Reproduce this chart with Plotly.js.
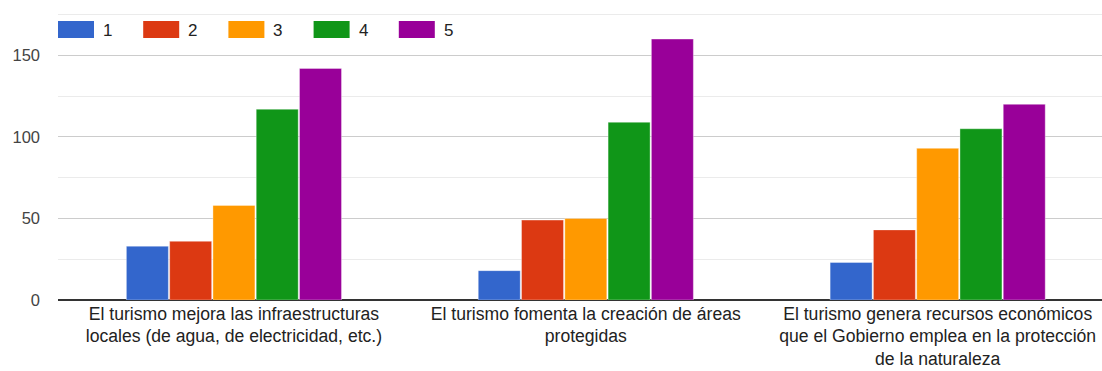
<!DOCTYPE html>
<html><head><meta charset="utf-8">
<script src="https://cdn.plot.ly/plotly-3.0.1.min.js"></script>
<style>html,body{margin:0;padding:0;background:#fff;}#chart{width:1102px;height:371px;}</style>
</head><body><div id="chart"></div>
<script>
const categories = [
  "El turismo mejora las infraestructuras<br>locales (de agua, de electricidad, etc.)",
  "El turismo fomenta la creación de áreas<br>protegidas",
  "El turismo genera recursos económicos<br>que el Gobierno emplea en la protección<br>de la naturaleza"
];
const seriesNames = ["1", "2", "3", "4", "5"];
const seriesColors = ["#3366cc", "#dc3912", "#ff9900", "#109618", "#990099"];
const values1 = [33, 18, 23];
const values2 = [36, 49, 43];
const values3 = [58, 50, 93];
const values4 = [117, 109, 105];
const values5 = [142, 160, 120];
const allValues = [values1, values2, values3, values4, values5];
const yTicks = [0, 50, 100, 150];

const FONT = '"Liberation Sans", Arial, sans-serif';

const traces = allValues.map((v, i) => ({
  type: 'bar', x: categories, y: v, name: seriesNames[i],
  marker: {color: seriesColors[i], line: {color: 'rgba(255,255,255,0.35)', width: 1}},
  hoverinfo: 'x+y+name', showlegend: false
}));

// Legend built from the series arrays (pixel-sized boxes anchored at plot top-left)
const PLOT_TOP = 13;
const shapes = [], annotations = [];
seriesNames.forEach((n, i) => {
  const dx = 85.2 * i;
  shapes.push({type: 'rect', xref: 'paper', yref: 'paper',
    xsizemode: 'pixel', ysizemode: 'pixel', xanchor: 0, yanchor: 1,
    x0: dx, x1: dx + 36, y0: -(21 - PLOT_TOP), y1: -(38 - PLOT_TOP),
    fillcolor: seriesColors[i], line: {width: 0}});
  annotations.push({xref: 'paper', yref: 'paper', x: 0, y: 1, xanchor: 'left', yanchor: 'middle',
    xshift: dx + 43, yshift: -(30 - PLOT_TOP), text: n, showarrow: false,
    font: {family: FONT, size: 17, color: '#222'}});
});

const layout = {
  width: 1102, height: 371,
  margin: {l: 58, r: 0, t: PLOT_TOP, b: 71},
  paper_bgcolor: '#fff', plot_bgcolor: '#fff',
  font: {family: FONT, size: 17, color: '#222'},
  barmode: 'group', bargap: 0.385, bargroupgap: 0.03,
  xaxis: {range: [-0.5, 2.467], showgrid: false, zeroline: false, showline: false,
    ticks: '', tickfont: {family: FONT, size: 17.6, color: '#222'}, ticklabelstandoff: 1,
    fixedrange: true, automargin: false},
  yaxis: {range: [0, 176], tickvals: yTicks, ticktext: yTicks.map(String),
    showgrid: true, gridcolor: '#cccccc', gridwidth: 1,
    minor: {dtick: 25, tick0: 0, showgrid: true, gridcolor: '#ebebeb', gridwidth: 1, ticks: ''},
    zeroline: true, zerolinecolor: '#333', zerolinewidth: 2,
    ticks: '', tickfont: {family: FONT, size: 16.5, color: '#444'}, ticklabelstandoff: 17,
    automargin: false, fixedrange: true},
  shapes: shapes, annotations: annotations
};
Plotly.newPlot('chart', traces, layout, {displayModeBar: false, staticPlot: true});
</script></body></html>
